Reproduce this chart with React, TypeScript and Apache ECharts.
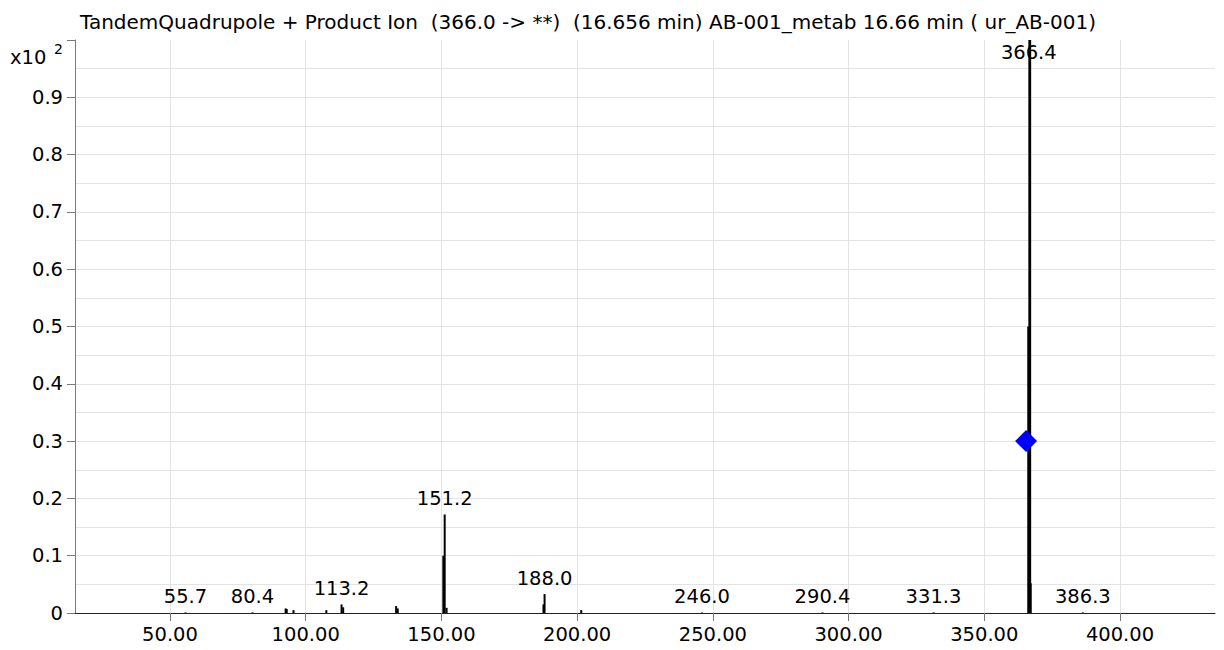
import React, { useEffect, useRef } from "react";
import * as echarts from "echarts";

const TITLE =
  "TandemQuadrupole + Product Ion  (366.0 -> **)  (16.656 min) AB-001_metab 16.66 min ( ur_AB-001)";

// m/z of each stick and its intensity (x10^2)
const stickMz = [
  55.7, 80.4, 92.6, 93.0, 95.5, 107.6, 113.2, 113.8, 133.3, 133.9, 150.7, 151.2,
  151.9, 187.6, 188.0, 201.5, 246.0, 290.4, 331.3, 366.2, 366.6, 366.9, 367.1, 386.3,
];
const stickIntensity = [
  0.001, 0.001, 0.008, 0.007, 0.005, 0.005, 0.015, 0.01, 0.012, 0.008, 0.1, 0.172,
  0.009, 0.015, 0.033, 0.005, 0.001, 0.001, 0.001, 0.5, 1.0, 1.0, 0.052, 0.001,
];

// labelled peaks
const peakLabels = ["55.7", "80.4", "113.2", "151.2", "188.0", "246.0", "290.4", "331.3", "366.4", "386.3"];
const peakLabelMz = [55.7, 80.4, 113.2, 151.2, 188.0, 246.0, 290.4, 331.3, 366.4, 386.3];
const peakLabelHeight = [0.001, 0.001, 0.015, 0.172, 0.033, 0.001, 0.001, 0.001, 1.0, 0.001];

// precursor marker
const precursorMz = [365.4];
const precursorIntensity = [0.3];

const xTickValues = [50, 100, 150, 200, 250, 300, 350, 400];

const FONT = "'DejaVu Sans', sans-serif";
const LABEL_SIZE = 19.5;

export default function App() {
  const ref = useRef<HTMLDivElement>(null);
  useEffect(() => {
    if (!ref.current) return;
    const chart = echarts.init(ref.current, undefined, { renderer: "svg" });
    const sticks = stickMz.map((m, i) => [m, stickIntensity[i]]);
    const labelData = peakLabelMz.map((m, i) => {
      const top = peakLabelHeight[i] >= 0.999;
      return {
        value: [m, peakLabelHeight[i]],
        name: peakLabels[i],
        label: top
          ? { position: "bottom", distance: 2 }
          : { position: "top", distance: 6 },
      };
    });
    const precursor = precursorMz.map((m, i) => [m, precursorIntensity[i]]);

    chart.setOption({
      animation: false,
      title: {
        text: TITLE,
        left: 75,
        top: 7,
        textStyle: { fontFamily: FONT, fontSize: 20, fontWeight: "normal", color: "#000" },
      },
      grid: { left: 75, right: 9, top: 40, bottom: 37, containLabel: false },
      xAxis: {
        type: "value",
        min: 15,
        max: 435,
        axisLine: { show: true, onZero: false, lineStyle: { color: "#222", width: 1 } },
        axisTick: {
          show: true,
          customValues: xTickValues,
          length: 8,
          lineStyle: { color: "#777" },
        },
        axisLabel: {
          customValues: xTickValues,
          formatter: (v: number) => v.toFixed(2),
          fontFamily: FONT,
          fontSize: LABEL_SIZE,
          color: "#000",
          margin: 11,
        },
        splitLine: { show: true, lineStyle: { color: "#e3e3e3", width: 1 } },
      },
      yAxis: {
        type: "value",
        min: 0,
        max: 1,
        interval: 0.1,
        axisLine: { show: true, lineStyle: { color: "#7a7a7a", width: 1 } },
        axisTick: { show: true, length: 8, lineStyle: { color: "#7a7a7a" } },
        axisLabel: {
          fontFamily: FONT,
          fontSize: LABEL_SIZE,
          color: "#000",
          margin: 12,
          formatter: (v: number) => (v === 0 ? "0" : v >= 0.999 ? "" : v.toFixed(1)),
        },
        splitLine: {
          show: true,
          lineStyle: {
            color: [
              "#e3e3e3", "#e3e3e3", "#e3e3e3", "#e3e3e3", "#e3e3e3", "#e3e3e3",
              "#e3e3e3", "#e3e3e3", "#e3e3e3", "#e3e3e3", "rgba(0,0,0,0)",
            ],
          },
        },
        minorTick: { show: false, splitNumber: 2 },
        minorSplitLine: { show: true, lineStyle: { color: "#e3e3e3" } },
      },
      graphic: [
        {
          type: "text",
          left: 10,
          top: 47,
          style: { text: "x10", font: `${LABEL_SIZE}px ${FONT}`, fill: "#000" },
        },
        {
          type: "text",
          left: 54,
          top: 42,
          style: { text: "2", font: `14px ${FONT}`, fill: "#000" },
        },
      ],
      series: [
        {
          type: "bar",
          data: sticks,
          barWidth: 2,
          itemStyle: { color: "#000" },
          silent: true,
        },
        {
          type: "scatter",
          data: labelData,
          symbolSize: 0,
          silent: true,
          itemStyle: { opacity: 1, color: "#000" },
          label: {
            show: true,
            formatter: (p: any) => p.name,
            fontFamily: FONT,
            fontSize: LABEL_SIZE,
            color: "#000",
            opacity: 1,
          },
        },
        {
          type: "scatter",
          data: precursor,
          symbol: "diamond",
          symbolSize: [22, 22],
          itemStyle: { color: "#0000ff", opacity: 1 },
          z: 5,
          silent: true,
        },
      ],
    });
    return () => chart.dispose();
  }, []);
  return <div ref={ref} style={{ width: 1224, height: 650, position: "absolute", left: 0, top: 0 }} />;
}
